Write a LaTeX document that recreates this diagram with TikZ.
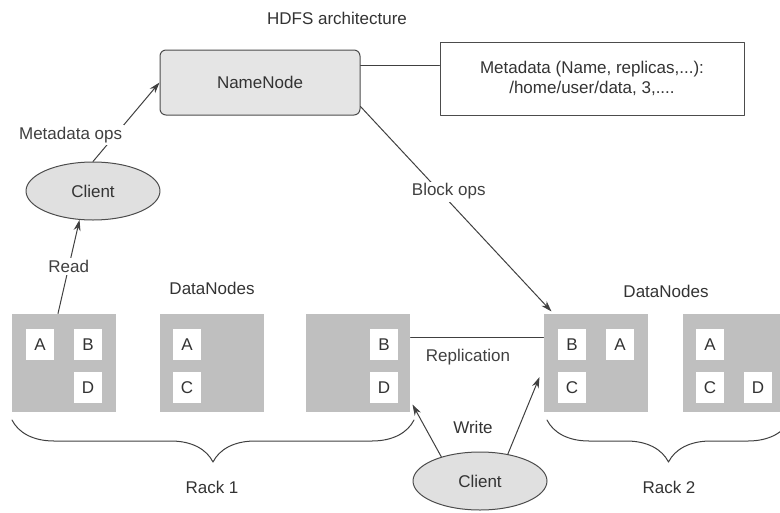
\documentclass[tikz,border=0pt]{standalone}
\usepackage{fontspec}
\setmainfont{Liberation Sans}
\usetikzlibrary{arrows.meta,shapes.geometric,decorations.pathreplacing}

\begin{document}
\begin{tikzpicture}[x=1pt,y=-1pt,line join=round,line cap=round,
    >={Stealth[length=11pt,width=7pt]},line width=1pt,
    font=\fontsize{17}{20}\selectfont,text=black!80,
    rack/.style={fill=black!25,minimum width=104pt,minimum height=98pt,inner sep=0pt},
    blk/.style={fill=white,minimum width=28pt,minimum height=31pt,inner sep=0pt},
    client/.style={ellipse,draw=black!70,fill=black!12,minimum width=134pt,minimum height=58pt,inner sep=0pt},
    lbl/.style={fill=white,inner sep=2pt}]

	% page
	\useasboundingbox (0,0) rectangle (780,512);
	\clip (0,0) rectangle (780,512);

	% name node and metadata
	\node (title) at (337,18) {HDFS architecture};
	\node[draw=black!70,fill=black!10,rounded corners=6pt,minimum width=200pt,minimum height=65pt] (nn) at (260,82.5) {NameNode};
	\node[draw=black!70,minimum width=304pt,minimum height=73pt,align=center] (meta) at (592,78.5) {Metadata (Name, replicas,...):\\/home/user/data, 3,....};

	% clients
	\node[client] (c1) at (93,191) {Client};
	\node[client] (c2) at (480,481) {Client};

	% data nodes
	\node[rack] (d1) at (64,363) {};
	\node[rack] (d2) at (212,363) {};
	\node[rack] (d3) at (358,363) {};
	\node[rack] (d4) at (596,363) {};
	\node[rack] (d5) at (735,363) {};

	% blocks
	\node[blk] (d1a) at (40,344.5) {A};
	\node[blk] (d1b) at (88,344.5) {B};
	\node[blk] (d1d) at (88,387.5) {D};
	\node[blk] (d2a) at (187,344.5) {A};
	\node[blk] (d2c) at (187,387.5) {C};
	\node[blk] (d3b) at (384,344.5) {B};
	\node[blk] (d3d) at (384,387.5) {D};
	\node[blk] (d4b) at (572,344.5) {B};
	\node[blk] (d4a) at (620,344.5) {A};
	\node[blk] (d4c) at (572,387.5) {C};
	\node[blk] (d5a) at (710,344.5) {A};
	\node[blk] (d5c) at (710,387.5) {C};
	\node[blk] (d5d) at (758,387.5) {D};

	\node (dn1) at (212,288) {DataNodes};
	\node (dn2) at (666,291) {DataNodes};

	% connectors
	\draw[black!75] ([yshift=17.5pt]nn.east) -- ([yshift=13.5pt]meta.west);
	\draw[black!75,->] (c1.north) -- (nn.west) node[lbl,pos=0.34,xshift=-45pt] {Metadata ops};
	\draw[black!75,->] ([xshift=-6pt]d1.north) -- (c1.245) node[lbl,midway] {Read};
	\draw[black!75,->] ([yshift=-24pt]nn.east) -- ([xshift=8pt,yshift=2pt]d4.north west) node[lbl,pos=0.415,xshift=9pt] {Block ops};
	\draw[black!75] ([yshift=26pt]d3.east) -- ([yshift=26pt]d4.west) node[midway,below=8pt,xshift=-9pt] {Replication};
	\draw[black!75,->] (c2.148) -- ([shift={(2pt,8pt)}]d3.south east);
	\draw[black!75,->] (c2.44) -- ([shift={(-4pt,-14pt)}]d4.west);
	\node (wr) at (473,427) {Write};

	% racks
	\draw[black!75,decorate,decoration={brace,amplitude=42pt}] (414,420) -- (12,420);
	\draw[black!75,decorate,decoration={brace,amplitude=42pt}] (790,420) -- (547,420);
	\node (r1) at (212,487) {Rack 1};
	\node (r2) at (669,487) {Rack 2};
\end{tikzpicture}
\end{document}
